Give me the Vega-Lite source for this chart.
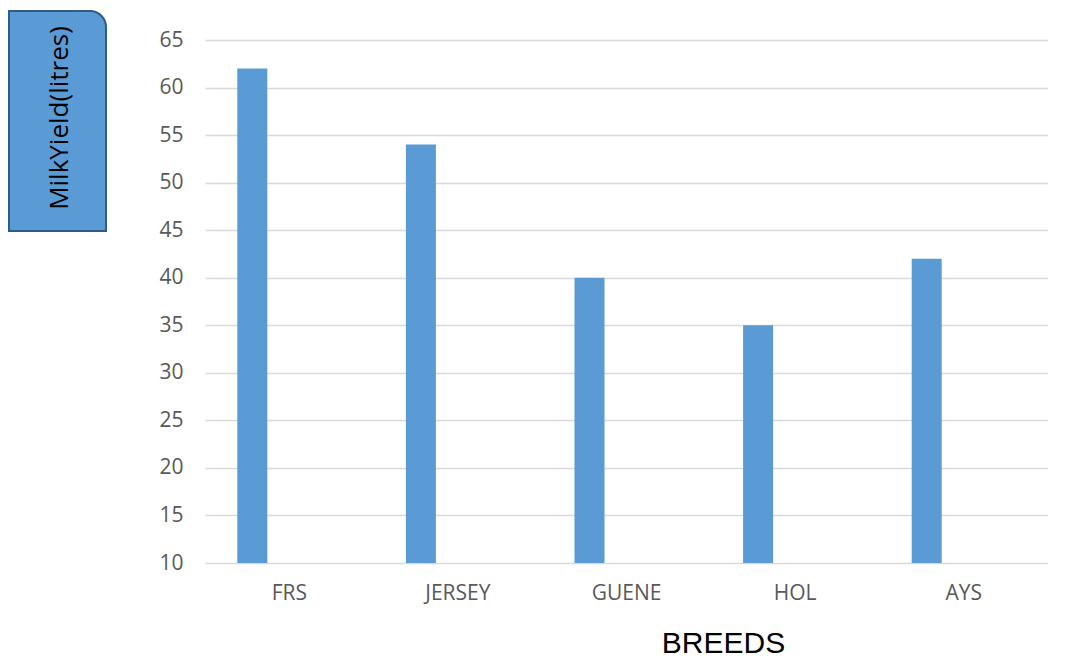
{
  "$schema": "https://vega.github.io/schema/vega-lite/v6.json",
  "padding": {"left": 8, "top": 10, "right": 0, "bottom": 0},
  "background": "white",
  "config": {"view": {"stroke": null}, "concat": {"spacing": 51}},
  "data": {"values": [
    {"breed": "FRS", "yield": 62},
    {"breed": "JERSEY", "yield": 54},
    {"breed": "GUENE", "yield": 40},
    {"breed": "HOL", "yield": 35},
    {"breed": "AYS", "yield": 42}
  ]},
  "hconcat": [
    {
      "width": 97,
      "height": 220,
      "data": {"values": [{"label": "MilkYield(litres)"}]},
      "layer": [
        {
          "mark": {"type": "rect", "color": "#5b9bd5", "stroke": "#2f5b86", "strokeWidth": 2, "cornerRadiusTopRight": 16},
          "encoding": {}
        },
        {
          "mark": {"type": "text", "angle": 270, "font": "Open Sans", "fontSize": 26, "color": "black", "align": "center", "baseline": "middle", "dx": 3, "dy": 2},
          "encoding": {"text": {"field": "label"}}
        }
      ]
    },
    {
      "width": 843,
      "height": 552,
      "mark": {"type": "bar", "width": 30, "xOffset": -37, "color": "#5b9bd5"},
      "encoding": {
        "x": {
          "field": "breed", "type": "nominal", "sort": null,
          "scale": {"paddingInner": 0, "paddingOuter": 0},
          "axis": {
            "title": "BREEDS", "titleFont": "Liberation Sans", "titleFontSize": 30, "titleFontWeight": "normal", "titleColor": "black",
            "titleX": 518, "titleY": 80, "titleBaseline": "middle",
            "labelAngle": 0, "labelFont": "Open Sans", "labelFontSize": 21, "labelColor": "#595959", "labelPadding": 19,
            "domain": false, "ticks": false, "grid": false
          }
        },
        "y": {
          "field": "yield", "type": "quantitative",
          "scale": {"domain": [10, 68.05], "zero": false, "nice": false},
          "axis": {
            "title": null, "values": [10, 15, 20, 25, 30, 35, 40, 45, 50, 55, 60, 65],
            "labelFont": "Open Sans", "labelFontSize": 21, "labelColor": "#595959", "labelPadding": 22,
            "domain": false, "ticks": false, "grid": true, "gridColor": "#d9d9d9", "gridWidth": 1.5
          }
        },
        "y2": {"datum": 10}
      }
    }
  ]
}
